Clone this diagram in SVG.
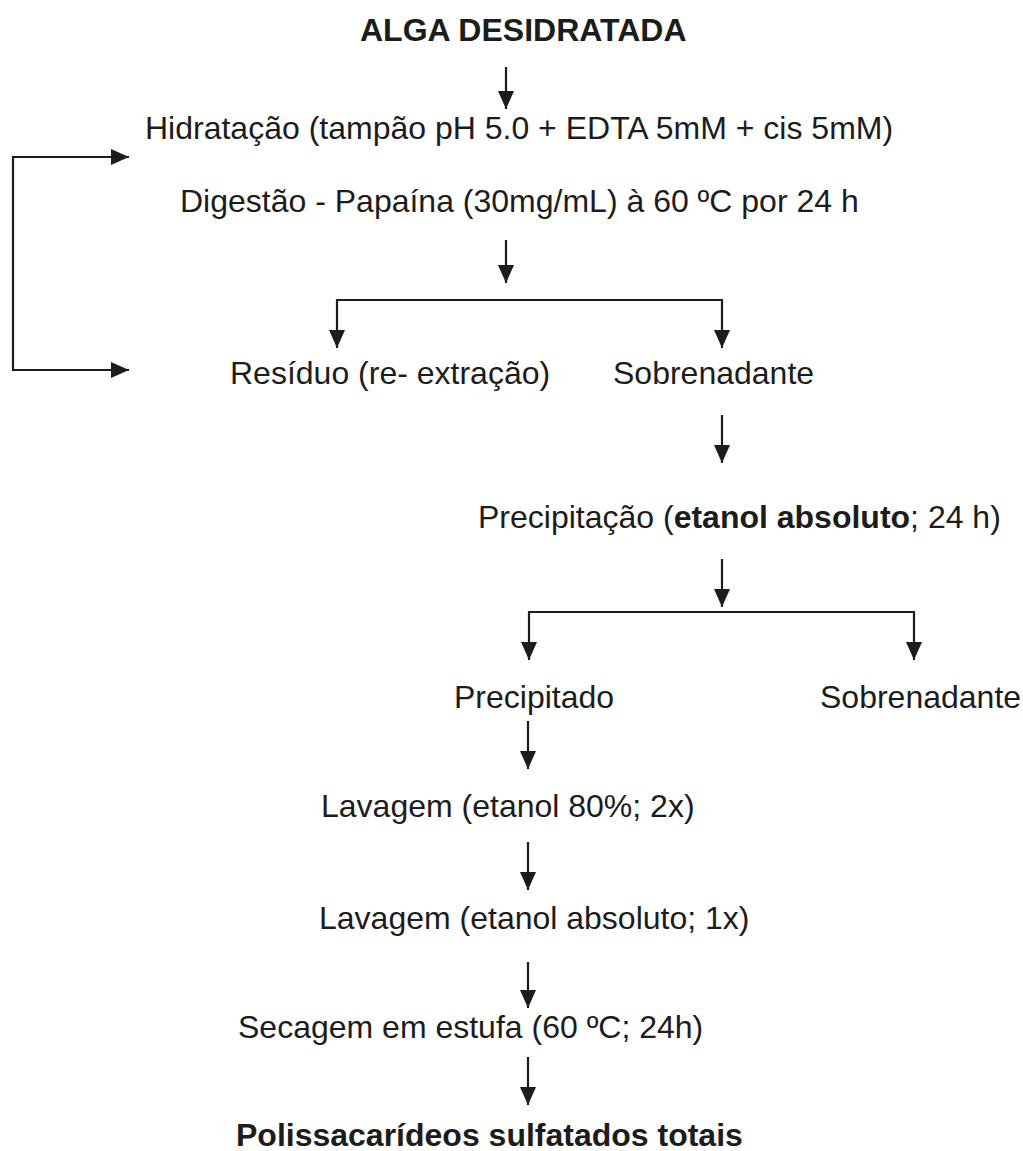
<svg xmlns="http://www.w3.org/2000/svg" width="1023" height="1151" viewBox="0 0 1023 1151">
<style>
text { font-family: "Liberation Sans", Arial, sans-serif; font-size: 32px; fill: #1c1c1c; }
.b { font-weight: bold; }
.c { stroke: #1c1c1c; stroke-width: 2.2; fill: none; }
</style>
<defs>
<marker id="ah" viewBox="0 0 18 16" refX="18" refY="8" markerWidth="18" markerHeight="16" markerUnits="userSpaceOnUse" orient="auto">
<path d="M0,0 L18,8 L0,16 Z" fill="#1c1c1c"/>
</marker>
</defs>
<rect width="1023" height="1151" fill="#ffffff"/>
<g id="connectors">
<line class="c" x1="506" y1="67" x2="506" y2="109" marker-end="url(#ah)"/>
<line class="c" x1="506" y1="240" x2="506" y2="283" marker-end="url(#ah)"/>
<polyline class="c" points="337,300 722,300"/>
<line class="c" x1="337" y1="299" x2="337" y2="348" marker-end="url(#ah)"/>
<line class="c" x1="722" y1="299" x2="722" y2="348" marker-end="url(#ah)"/>
<polyline class="c" points="13,157 13,370"/>
<line class="c" x1="12" y1="157" x2="129" y2="157" marker-end="url(#ah)"/>
<line class="c" x1="12" y1="370" x2="129" y2="370" marker-end="url(#ah)"/>
<line class="c" x1="722" y1="415" x2="722" y2="463" marker-end="url(#ah)"/>
<line class="c" x1="722" y1="559" x2="722" y2="607" marker-end="url(#ah)"/>
<polyline class="c" points="529,612 914,612"/>
<line class="c" x1="529" y1="611" x2="529" y2="660" marker-end="url(#ah)"/>
<line class="c" x1="914" y1="611" x2="914" y2="660" marker-end="url(#ah)"/>
<line class="c" x1="528" y1="721" x2="528" y2="769" marker-end="url(#ah)"/>
<line class="c" x1="528" y1="842" x2="528" y2="890" marker-end="url(#ah)"/>
<line class="c" x1="528" y1="962" x2="528" y2="1008" marker-end="url(#ah)"/>
<line class="c" x1="528" y1="1057" x2="528" y2="1105" marker-end="url(#ah)"/>
</g>
<g id="n-alga"><text class="b" x="360" y="41">ALGA DESIDRATADA</text></g>
<g id="n-hidratacao"><text x="145" y="139">Hidratação (tampão pH 5.0 + EDTA 5mM + cis 5mM)</text></g>
<g id="n-digestao"><text x="180" y="212">Digestão - Papaína (30mg/mL) à 60 ºC por 24 h</text></g>
<g id="n-residuo"><text x="230" y="384">Resíduo (re- extração)</text></g>
<g id="n-sobrenadante1"><text x="613" y="384">Sobrenadante</text></g>
<g id="n-precipitacao"><text x="478" y="528">Precipitação (<tspan class="b">etanol absoluto</tspan>; 24 h)</text></g>
<g id="n-precipitado"><text x="454" y="708">Precipitado</text></g>
<g id="n-sobrenadante2"><text x="820" y="708">Sobrenadante</text></g>
<g id="n-lavagem1"><text x="321" y="817">Lavagem (etanol 80%; 2x)</text></g>
<g id="n-lavagem2"><text x="319" y="929">Lavagem (etanol absoluto; 1x)</text></g>
<g id="n-secagem"><text x="238" y="1038">Secagem em estufa (60 ºC; 24h)</text></g>
<g id="n-polissacarideos"><text class="b" x="236" y="1146">Polissacarídeos sulfatados totais</text></g>
</svg>
